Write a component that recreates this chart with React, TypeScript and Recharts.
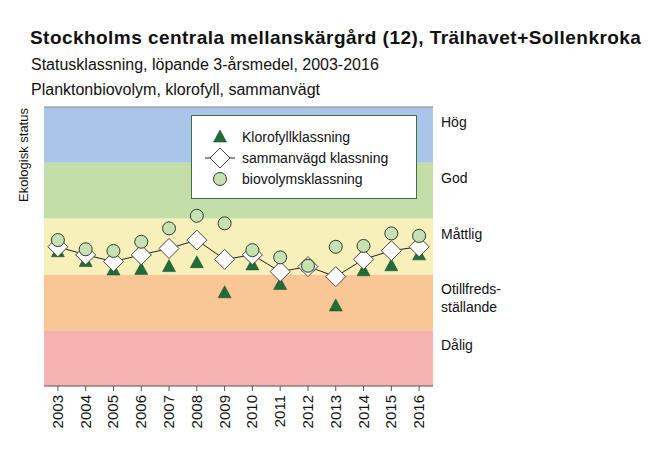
import { LineChart, Line, XAxis, YAxis, ReferenceArea, ReferenceLine, Legend } from 'recharts';

const years = [2003, 2004, 2005, 2006, 2007, 2008, 2009, 2010, 2011, 2012, 2013, 2014, 2015, 2016];
const klorofyll = [0.481, 0.446, 0.416, 0.418, 0.428, 0.442, 0.334, 0.434, 0.364, 0.43, 0.287, 0.413, 0.431, 0.47];
const sammanvagd = [0.499, 0.47, 0.446, 0.47, 0.493, 0.523, 0.454, 0.47, 0.41, 0.428, 0.392, 0.454, 0.485, 0.499];
const biovolym = [0.523, 0.49, 0.484, 0.517, 0.565, 0.61, 0.583, 0.487, 0.461, 0.431, 0.499, 0.502, 0.547, 0.538];

// status classes from bottom to top, with class limits
const statusNames = [['Dålig'], ['Otillfreds-', 'ställande'], ['Måttlig'], ['God'], ['Hög']];
const classLimits = [0, 0.2, 0.4, 0.6, 0.8, 1];
const bandColors = ['#f5b2b1', '#f8c795', '#f7f0ba', '#c3dfa7', '#a9c5e8'];

const data = years.map((year, i) => ({
  year,
  klorofyll: klorofyll[i],
  sammanvagd: sammanvagd[i],
  biovolym: biovolym[i],
}));

const FONT = '"Liberation Sans", Arial, sans-serif';
const TRI_FILL = '#1f6d38';
const CIRCLE_FILL = '#c6e2b3';

const Triangle = ({ cx, cy }: { cx: number; cy: number }) => (
  <path d={`M${cx},${cy - 7} L${cx + 6.5},${cy + 5} L${cx - 6.5},${cy + 5} Z`} fill={TRI_FILL} stroke="#173f22" strokeWidth={0.5} />
);
const Diamond = ({ cx, cy }: { cx: number; cy: number }) => (
  <path d={`M${cx},${cy - 10} L${cx + 10},${cy} L${cx},${cy + 10} L${cx - 10},${cy} Z`} fill="#ffffff" stroke="#444" strokeWidth={1} />
);
const Circle = ({ cx, cy }: { cx: number; cy: number }) => (
  <circle cx={cx} cy={cy} r={6.5} fill={CIRCLE_FILL} stroke="#2e3b2e" strokeWidth={1} />
);

const YearTick = (props: any) => {
  const { x, y, payload } = props;
  return (
    <text x={x + 5} y={y + 2} transform={`rotate(-90 ${x + 5} ${y + 2})`} textAnchor="end" fontSize={15} fill="#111" fontFamily={FONT}>
      {payload.value}
    </text>
  );
};

const BandLabel = ({ viewBox, lines }: any) => {
  const { x, y, width } = viewBox;
  return (
    <text x={x + width + 8} y={y + 20} fontSize={14} fill="#111" fontFamily={FONT}>
      {lines.map((l: string, i: number) => (
        <tspan key={l} x={x + width + 8} dy={i === 0 ? 0 : 18}>{l}</tspan>
      ))}
    </text>
  );
};

const renderLegend = () => (
  <svg width={226} height={84} style={{ display: 'block' }}>
    <rect x={0.5} y={0.5} width={225} height={83} fill="#ffffff" stroke="#3c6e4f" strokeWidth={1} />
    <Triangle cx={29} cy={22} />
    <line x1={14} x2={44} y1={43} y2={43} stroke="#222" strokeWidth={1} />
    <Diamond cx={29} cy={43} />
    <Circle cx={29} cy={64} />
    <g fontSize={14} fill="#111" fontFamily={FONT}>
      <text x={51} y={27}>Klorofyllklassning</text>
      <text x={51} y={48}>sammanvägd klassning</text>
      <text x={51} y={69}>biovolymsklassning</text>
    </g>
  </svg>
);

export default function App() {
  return (
    <div style={{ position: 'absolute', left: 0, top: 0, width: 656, height: 474, background: '#fff', fontFamily: FONT, color: '#111' }}>
      <div style={{ position: 'absolute', left: 30, top: 28, fontSize: 19, letterSpacing: 0.45, fontWeight: 'bold', lineHeight: 1, whiteSpace: 'nowrap' }}>
        Stockholms centrala mellanskärgård (12), Trälhavet+Sollenkroka
      </div>
      <div style={{ position: 'absolute', left: 31, top: 56.5, fontSize: 16, lineHeight: 1, whiteSpace: 'nowrap' }}>
        Statusklassning, löpande 3-årsmedel, 2003-2016
      </div>
      <div style={{ position: 'absolute', left: 31, top: 81.5, fontSize: 16, lineHeight: 1, whiteSpace: 'nowrap' }}>
        Planktonbiovolym, klorofyll, sammanvägt
      </div>
      <div
        style={{
          position: 'absolute',
          left: 23,
          top: 155,
          fontSize: 13,
          lineHeight: 1,
          whiteSpace: 'nowrap',
          transform: 'translate(-50%, -50%) rotate(-90deg)',
        }}
      >
        Ekologisk status
      </div>
      <div style={{ position: 'absolute', left: 0, top: 0 }}>
        <LineChart width={656} height={474} data={data} margin={{ top: 107, right: 223, bottom: 48, left: 44 }}>
          {bandColors.map((c, i) => (
            <ReferenceArea
              key={c}
              y1={classLimits[i]}
              y2={classLimits[i + 1]}
              fill={c}
              fillOpacity={1}
              stroke="none"
              label={<BandLabel lines={statusNames[i]} />}
            />
          ))}
          <ReferenceLine y={1} stroke="#888" strokeWidth={1} />
          <XAxis
            dataKey="year"
            type="number"
            domain={[2002.5, 2016.5]}
            ticks={years}
            height={40}
            interval={0}
            tickSize={5}
            stroke="#555"
            tick={<YearTick />}
          />
          <YAxis domain={[0, 1]} width={0} tick={false} stroke="#555" />
          <YAxis yAxisId="r" orientation="right" domain={[0, 1]} width={0} tick={false} stroke="#888" />
          <Legend
            layout="vertical"
            align="center"
            verticalAlign="middle"
            content={renderLegend}
            wrapperStyle={{ position: 'absolute', left: 191, top: 115, width: 226, height: 84 }}
          />
          <Line
            dataKey="klorofyll"
            stroke="none"
            isAnimationActive={false}
            dot={(p: any) => <Triangle key={`t${p.index}`} cx={p.cx} cy={p.cy} />}
            activeDot={false}
          />
          <Line
            dataKey="sammanvagd"
            stroke="#222"
            strokeWidth={1}
            isAnimationActive={false}
            dot={(p: any) => <Diamond key={`d${p.index}`} cx={p.cx} cy={p.cy} />}
            activeDot={false}
          />
          <Line
            dataKey="biovolym"
            stroke="none"
            isAnimationActive={false}
            dot={(p: any) => <Circle key={`c${p.index}`} cx={p.cx} cy={p.cy} />}
            activeDot={false}
          />
        </LineChart>
      </div>
    </div>
  );
}
